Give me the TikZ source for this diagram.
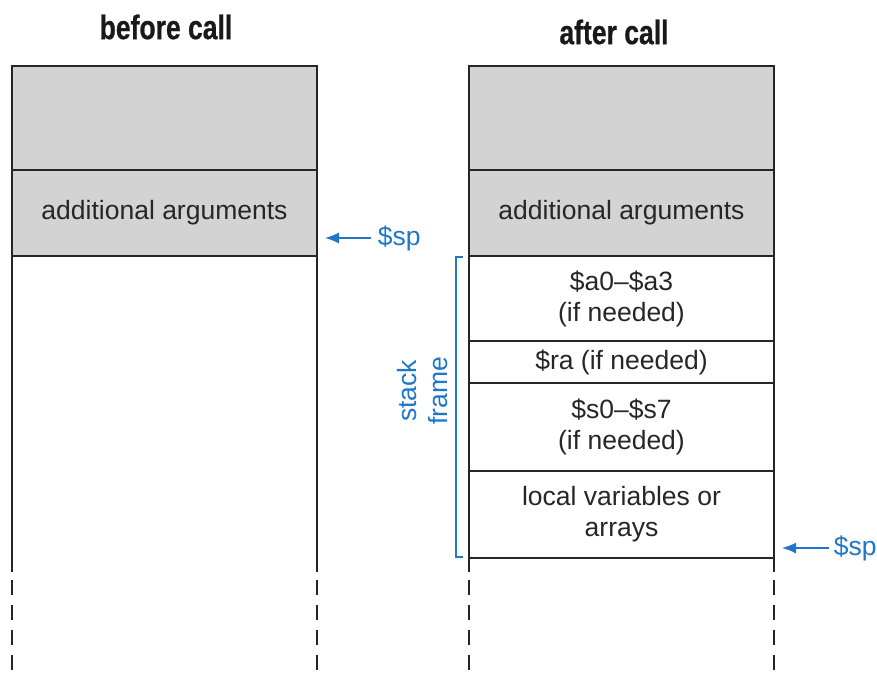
\documentclass[tikz,border=0pt]{standalone}
\usepackage{fontspec}
\setmainfont{Liberation Sans}
\newfontfamily\titlefont[FakeStretch=0.78,FakeBold=0.6]{Liberation Sans}
\usetikzlibrary{arrows.meta}
\definecolor{cellgray}{RGB}{211,211,211}
\definecolor{sblue}{RGB}{31,119,200}
\newcommand{\bodyfont}{\fontsize{26.5}{31}\selectfont}
\begin{document}
\begin{tikzpicture}[x=1pt,y=-1pt,line width=1.6pt,
  cell/.style={draw=black!85,minimum width=305pt,inner sep=0pt,outer sep=0pt,anchor=north west,font=\bodyfont,align=center,text=black!85},
  graycell/.style={cell,fill=cellgray},
  col/.style={draw=black!85},
  dashcol/.style={draw=black!85,dash pattern=on 15pt off 10pt},
  title/.style={font=\titlefont\bfseries\fontsize{34}{36}\selectfont,text=black!90},
  bluetext/.style={font=\bodyfont,text=sblue,inner sep=0pt},
  sparrow/.style={draw=sblue,line width=1.4pt,-{Latex[length=14pt,width=11pt]}},
  brace/.style={draw=sblue,line width=1.3pt}]
\useasboundingbox (0,0) rectangle (877,672);
% titles
\node[title] (t1) at (166,27) {before call};
\node[title] (t2) at (614,32) {after call};
% left column
\node[graycell,minimum height=104pt] (L1) at (12,66) {};
\node[graycell,minimum height=86pt] (L2) at (12,170) {additional arguments};
\coordinate (Lbl) at (12,572);
\coordinate (Lbr) at (317,572);
\coordinate (Ldl) at (12,580);
\coordinate (Ldr) at (317,580);
\coordinate (Lel) at (12,672);
\coordinate (Ler) at (317,672);
\draw[col] (L2.south west) -- (Lbl);
\draw[col] (L2.south east) -- (Lbr);
\draw[dashcol] (Ldl) -- (Lel);
\draw[dashcol] (Ldr) -- (Ler);
% right column
\node[graycell,minimum height=104pt] (R1) at (469,66) {};
\node[graycell,minimum height=86pt] (R2) at (469,170) {additional arguments};
\node[cell,minimum height=85pt] (R3) at (469,256) {\$a0--\$a3\\(if needed)};
\node[cell,minimum height=42pt] (R4) at (469,341) {\$ra (if needed)};
\node[cell,minimum height=88pt] (R5) at (469,383) {\$s0--\$s7\\(if needed)};
\node[cell,minimum height=87pt] (R6) at (469,471) {local variables or\\arrays};
\coordinate (Rbl) at (469,572);
\coordinate (Rbr) at (774,572);
\coordinate (Rdl) at (469,580);
\coordinate (Rdr) at (774,580);
\coordinate (Rel) at (469,672);
\coordinate (Rer) at (774,672);
\draw[col] (R6.south west) -- (Rbl);
\draw[col] (R6.south east) -- (Rbr);
\draw[dashcol] (Rdl) -- (Rel);
\draw[dashcol] (Rdr) -- (Rer);
% $sp pointers
\node[bluetext,anchor=west] (sp1) at (377,238) {\$sp};
\coordinate (sp1tip) at (325,238);
\draw[sparrow] (sp1.west) ++(-6pt,0) -- (sp1tip);
\node[bluetext,anchor=west] (sp2) at (833,548) {\$sp};
\coordinate (sp2tip) at (782,548);
\draw[sparrow] (sp2.west) ++(-4pt,0) -- (sp2tip);
% stack frame bracket
\coordinate (b1) at (463,257);
\coordinate (b2) at (456,257);
\coordinate (b3) at (456,557);
\coordinate (b4) at (463,557);
\draw[brace] (b1) -- (b2) -- (b3) -- (b4);
\node[font=\bodyfont,text=sblue,rotate=90,align=center] (sf) at (423,391) {stack\\frame};
\end{tikzpicture}
\end{document}
